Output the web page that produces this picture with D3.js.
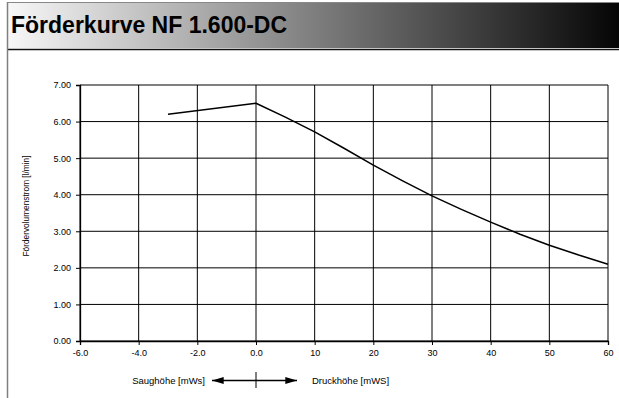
<!DOCTYPE html>
<html>
<head>
<meta charset="utf-8">
<script src="https://cdn.jsdelivr.net/npm/d3@7"></script>
<style>
  html, body { margin: 0; padding: 0; background: #fff; }
  svg { display: block; font-family: "Liberation Sans", Arial, sans-serif; }
</style>
</head>
<body>
<div id="chart"></div>
<script>
// Förderkurve data: suction side (negative, mWs) and pressure side (mWS)
const headValues = [-3, 0, 5, 10, 15, 20, 25, 30, 35, 40, 45, 50, 55, 60];
const flowValues = [6.2, 6.5, 6.12, 5.72, 5.27, 4.81, 4.38, 3.97, 3.6, 3.25, 2.92, 2.62, 2.35, 2.1];
const xTickValues = [-6, -4, -2, 0, 10, 20, 30, 40, 50, 60];
const yTickValues = [0, 1, 2, 3, 4, 5, 6, 7];
const titleText = "Förderkurve NF 1.600-DC";
const yTitle = "Fördervolumenstrom [l/min]";
const suctionLabel = "Saughöhe [mWs]";
const pressureLabel = "Druckhöhe [mWS]";

const width = 619;
const height = 398;
const plot = { left: 80, right: 608, top: 85, bottom: 341 };

const svg = d3.select("#chart")
  .append("svg")
  .attr("width", width)
  .attr("height", height);

// Title bar gradient
const grad = svg.append("defs")
  .append("linearGradient")
  .attr("id", "titleGrad")
  .attr("x1", "0%").attr("x2", "100%");
grad.append("stop").attr("offset", "0%").attr("stop-color", "#f8f8f8");
grad.append("stop").attr("offset", "100%").attr("stop-color", "#050505");

svg.append("rect")
  .attr("x", 7).attr("y", 3)
  .attr("width", width - 7).attr("height", 45)
  .attr("fill", "url(#titleGrad)");

svg.append("line")
  .attr("x1", 7).attr("x2", width)
  .attr("y1", 2.5).attr("y2", 2.5)
  .attr("stroke", "#888").attr("stroke-width", 1.2);

svg.append("line")
  .attr("x1", 7).attr("x2", width)
  .attr("y1", 49.5).attr("y2", 49.5)
  .attr("stroke", "#111").attr("stroke-width", 1.5);

svg.append("line")
  .attr("x1", 7.5).attr("x2", 7.5)
  .attr("y1", 2).attr("y2", height)
  .attr("stroke", "#808080").attr("stroke-width", 1.5);

svg.append("text")
  .attr("x", 11).attr("y", 33)
  .attr("font-size", 23)
  .attr("font-weight", "bold")
  .attr("fill", "#000")
  .text(titleText);

// Scales: left third is suction (-6..0), rest is pressure (0..60)
const x = d3.scaleLinear()
  .domain([-6, 0, 60])
  .range([plot.left, plot.left + 3 * (plot.right - plot.left) / 9, plot.right]);

const y = d3.scaleLinear()
  .domain([0, 7])
  .range([plot.bottom, plot.top]);

// Grid
svg.append("g")
  .selectAll("line")
  .data(yTickValues)
  .join("line")
  .attr("x1", plot.left).attr("x2", plot.right)
  .attr("y1", (d) => y(d)).attr("y2", (d) => y(d))
  .attr("stroke", "#000").attr("stroke-width", 1);

svg.append("g")
  .selectAll("line")
  .data(xTickValues)
  .join("line")
  .attr("x1", (d) => x(d)).attr("x2", (d) => x(d))
  .attr("y1", plot.top).attr("y2", plot.bottom)
  .attr("stroke", "#000").attr("stroke-width", 1);

// Axes
const yAxis = svg.append("g")
  .attr("transform", `translate(${plot.left},0)`)
  .call(d3.axisLeft(y).tickValues(yTickValues).tickFormat(d3.format(".2f")).tickSize(4).tickPadding(5));

const xAxis = svg.append("g")
  .attr("transform", `translate(0,${plot.bottom})`)
  .call(d3.axisBottom(x)
    .tickValues(xTickValues)
    .tickFormat((d) => (d <= 0 ? d.toFixed(1) : String(d)))
    .tickSize(4).tickPadding(5));

[yAxis, xAxis].forEach((ax) => {
  ax.select(".domain").attr("stroke", "#000").attr("stroke-width", 1.3);
  ax.selectAll(".tick line").attr("stroke", "#000");
  ax.selectAll(".tick text")
    .attr("font-family", "'Liberation Sans', Arial, sans-serif")
    .attr("font-size", 9)
    .attr("fill", "#000");
});

// Curve
const points = headValues.map((h, i) => [h, flowValues[i]]);
svg.append("path")
  .datum(points)
  .attr("fill", "none")
  .attr("stroke", "#000")
  .attr("stroke-width", 1.5)
  .attr("stroke-linejoin", "round")
  .attr("d", d3.line().x((d) => x(d[0])).y((d) => y(d[1])));

// Y axis title
svg.append("text")
  .attr("transform", `translate(29,206) rotate(-90)`)
  .attr("text-anchor", "middle")
  .attr("font-size", 8.3)
  .attr("fill", "#000")
  .text(yTitle);

// Bottom direction indicator
const arrowY = 380.5;
const x0 = x(0);
const defs = svg.select("defs");
defs.append("marker")
  .attr("id", "arrowHead")
  .attr("viewBox", "0 0 10 6")
  .attr("refX", 10).attr("refY", 3)
  .attr("markerWidth", 12).attr("markerHeight", 7)
  .attr("markerUnits", "userSpaceOnUse")
  .attr("orient", "auto-start-reverse")
  .append("path")
  .attr("d", "M0,0 L10,3 L0,6 Z")
  .attr("fill", "#000");

svg.append("line")
  .attr("x1", x0 - 44).attr("x2", x0 + 41)
  .attr("y1", arrowY).attr("y2", arrowY)
  .attr("stroke", "#000").attr("stroke-width", 1.3)
  .attr("marker-start", "url(#arrowHead)")
  .attr("marker-end", "url(#arrowHead)");

svg.append("line")
  .attr("x1", x0).attr("x2", x0)
  .attr("y1", 372).attr("y2", 388)
  .attr("stroke", "#000").attr("stroke-width", 1);

svg.append("text")
  .attr("x", x0 - 51).attr("y", arrowY + 3.5)
  .attr("text-anchor", "end")
  .attr("font-size", 9.5)
  .attr("fill", "#000")
  .text(suctionLabel);

svg.append("text")
  .attr("x", x0 + 56).attr("y", arrowY + 3.5)
  .attr("font-size", 9.5)
  .attr("fill", "#000")
  .text(pressureLabel);
</script>
</body>
</html>
